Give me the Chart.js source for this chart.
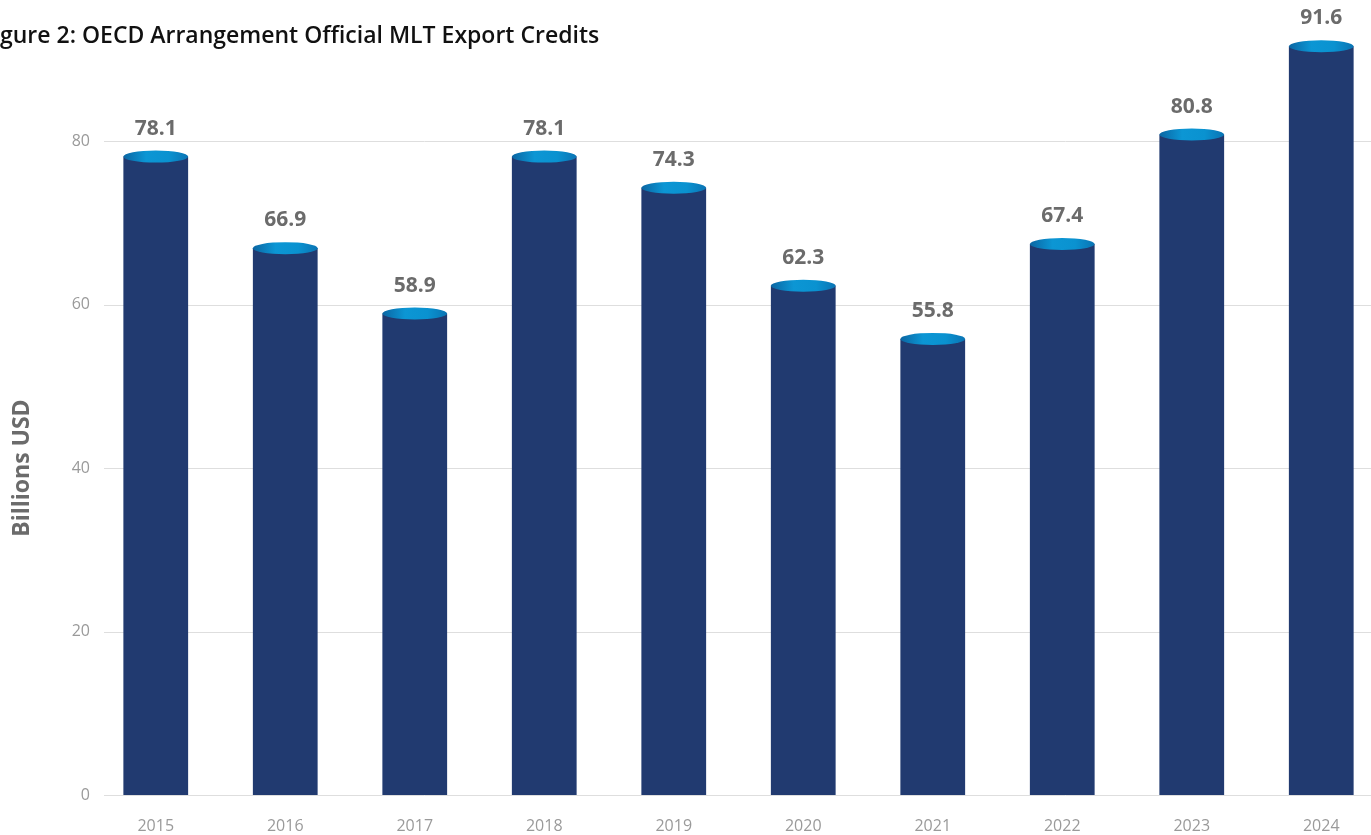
<!DOCTYPE html>
<html>
<head>
<meta charset="utf-8">
<title>OECD Arrangement Official MLT Export Credits</title>
<script src="https://cdn.jsdelivr.net/npm/chart.js@4/dist/chart.umd.min.js"></script>
<style>
  html, body { margin: 0; padding: 0; background: #ffffff; overflow: hidden; }
  #wrap { position: absolute; left: 0; top: 0; width: 1386px; height: 835px; }
</style>
</head>
<body>
<div id="wrap"><canvas id="chart"></canvas></div>
<script>
// Data: official medium- and long-term export credits, billions USD
const years = ['2015', '2016', '2017', '2018', '2019', '2020', '2021', '2022', '2023', '2024'];
const credits = [78.1, 66.9, 58.9, 78.1, 74.3, 62.3, 55.8, 67.4, 80.8, 91.6];
const yTickValues = [0, 20, 40, 60, 80];

const titleText = 'Figure 2: OECD Arrangement Official MLT Export Credits';
const axisTitle = 'Billions USD';
const FONT = '"Open Sans", Lato, sans-serif';

// Horizontal grid lines, starting slightly right of the tick labels
const gridPlugin = {
  id: 'grid',
  beforeDatasetsDraw(chart) {
    const { ctx, chartArea, scales } = chart;
    ctx.save();
    ctx.strokeStyle = '#dedede';
    ctx.lineWidth = 1;
    yTickValues.forEach(v => {
      const y = Math.round(scales.y.getPixelForValue(v)) + 0.5;
      ctx.beginPath();
      ctx.moveTo(104, y);
      ctx.lineTo(chartArea.right, y);
      ctx.stroke();
    });
    ctx.restore();
  }
};

// Cylinder caps and value labels above each bar
const capPlugin = {
  id: 'caps',
  afterDatasetsDraw(chart) {
    const { ctx } = chart;
    const meta = chart.getDatasetMeta(0);
    ctx.save();
    meta.data.forEach((bar, i) => {
      const w = bar.width;
      const left = bar.x - w / 2;
      const g = ctx.createLinearGradient(left, 0, left + w, 0);
      g.addColorStop(0, '#0b66a3');
      g.addColorStop(0.35, '#0c96d4');
      g.addColorStop(0.7, '#0a92d0');
      g.addColorStop(1, '#0a74b4');
      ctx.fillStyle = g;
      ctx.beginPath();
      ctx.ellipse(bar.x, bar.y, w / 2, 6, 0, 0, Math.PI * 2);
      ctx.fill();

      ctx.fillStyle = '#6b6b6b';
      ctx.font = 'bold 21px ' + FONT;
      ctx.textAlign = 'center';
      ctx.textBaseline = 'middle';
      ctx.fillText(credits[i].toFixed(1), bar.x, bar.y - 28);
    });
    ctx.restore();
  }
};

// Chart title (runs off the left edge) and rotated y-axis title
const textPlugin = {
  id: 'texts',
  afterDraw(chart) {
    const { ctx, scales } = chart;
    ctx.save();
    ctx.fillStyle = '#111111';
    ctx.font = '600 23px ' + FONT;
    ctx.textAlign = 'left';
    ctx.textBaseline = 'alphabetic';
    const cut = ctx.measureText('Fi').width;
    ctx.fillText(titleText, -cut, 43);

    ctx.translate(22, scales.y.getPixelForValue(40));
    ctx.rotate(-Math.PI / 2);
    ctx.fillStyle = '#6b6b6b';
    ctx.font = 'bold 23px ' + FONT;
    ctx.textAlign = 'center';
    ctx.textBaseline = 'middle';
    ctx.fillText(axisTitle, 0, 0);
    ctx.restore();
  }
};

new Chart(document.getElementById('chart'), {
  type: 'bar',
  data: {
    labels: years,
    datasets: [{
      data: credits,
      backgroundColor: '#213a70',
      borderWidth: 0,
      barPercentage: 0.5,
      categoryPercentage: 1.0
    }]
  },
  options: {
    responsive: true,
    maintainAspectRatio: false,
    animation: false,
    layout: { padding: { top: 43, left: 0, right: 0, bottom: 0 } },
    plugins: {
      legend: { display: false },
      tooltip: { enabled: false },
      title: { display: false }
    },
    scales: {
      x: {
        grid: { display: false },
        border: { display: false },
        ticks: {
          color: '#9a9a9a',
          font: { family: FONT, size: 16 },
          padding: 14,
          maxRotation: 0
        },
        afterFit(scale) { scale.height = 40; }
      },
      y: {
        min: 0,
        max: 92,
        grid: { display: false, drawTicks: false },
        border: { display: false },
        ticks: {
          stepSize: 20,
          color: '#9a9a9a',
          font: { family: FONT, size: 16 },
          padding: 1
        },
        afterBuildTicks(scale) {
          scale.ticks = yTickValues.map(v => ({ value: v }));
        },
        afterFit(scale) { scale.width = 91; }
      }
    }
  },
  plugins: [gridPlugin, capPlugin, textPlugin]
});
</script>
</body>
</html>
